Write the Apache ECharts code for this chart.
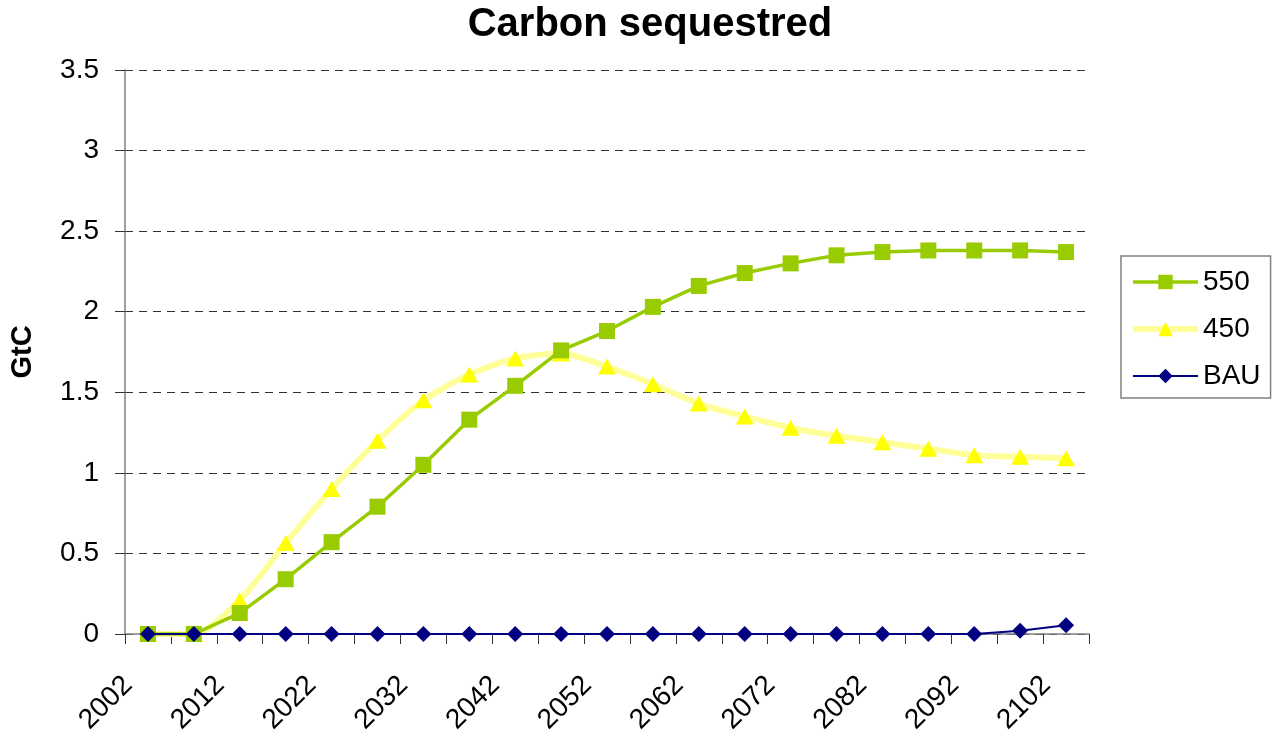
<!DOCTYPE html>
<html><head><meta charset="utf-8">
<script src="https://cdn.jsdelivr.net/npm/echarts@6/dist/echarts.min.js"></script>
<style>html,body{margin:0;padding:0;background:#fff}#c{width:1278px;height:743px}</style>
</head><body><div id="c"></div>
<script>
const years = ['2002','2007','2012','2017','2022','2027','2032','2037','2042','2047','2052','2057','2062','2067','2072','2077','2082','2087','2092','2097','2102'];
const s550 = [0,0,0.13,0.34,0.57,0.79,1.05,1.33,1.54,1.76,1.88,2.03,2.16,2.24,2.30,2.35,2.37,2.38,2.38,2.38,2.37];
const s450 = [0,0,0.21,0.565,0.90,1.20,1.45,1.61,1.71,1.74,1.66,1.55,1.43,1.35,1.28,1.23,1.19,1.15,1.11,1.10,1.09];
const sBAU = [0,0,0,0,0,0,0,0,0,0,0,0,0,0,0,0,0,0,0,0.02,0.055];
const yTicks = [0,0.5,1,1.5,2,2.5,3,3.5];

const font = 'Liberation Sans, Arial, sans-serif';
const chart = echarts.init(document.getElementById('c'), null, {renderer:'canvas'});
chart.setOption({
  animation:false,
  backgroundColor:'#fff',
  title:{text:'Carbon sequestred',left:645,top:0,textAlign:'center',
    textStyle:{fontFamily:font,fontSize:40,fontWeight:'bold',color:'#000'}},
  grid:{left:124,right:189,top:70,bottom:109,containLabel:false},
  legend:{
    orient:'vertical',left:1121,top:256,
    padding:[12,10,8,9],itemGap:19,itemWidth:65,itemHeight:18,
    borderColor:'#808080',borderWidth:1.5,backgroundColor:'#fff',
    textStyle:{fontFamily:font,fontSize:28,lineHeight:28,color:'#000'},
    data:[{name:'550',lineStyle:{width:3.5}},{name:'450',lineStyle:{width:6}},{name:'BAU',lineStyle:{width:2}}]
  },
  xAxis:{type:'category',data:years,boundaryGap:true,
    axisLine:{lineStyle:{color:'#808080',width:1.5}},
    axisTick:{show:true,interval:0,length:10,lineStyle:{color:'#333',width:1}},
    axisLabel:{interval:1,rotate:45,fontFamily:font,fontSize:28,color:'#000',margin:27,
      padding:[0,28,0,0]},
    splitLine:{show:false}},
  yAxis:{type:'value',min:0,max:3.5,interval:0.5,
    name:'GtC',nameLocation:'middle',nameGap:88,nameRotate:90,
    nameTextStyle:{fontFamily:font,fontSize:29,fontWeight:'bold',color:'#000'},
    axisLine:{show:true,lineStyle:{color:'#808080',width:1.5}},
    axisTick:{show:true,length:10,lineStyle:{color:'#333',width:1}},
    axisLabel:{fontFamily:font,fontSize:28,color:'#000',margin:26,
      formatter:v=>yTicks.includes(v)?String(v):''},
    splitLine:{show:true,lineStyle:{color:'#333',type:[8,6],width:1}}},
  series:[
    {name:'450',type:'line',data:s450,smooth:0.25,symbol:'triangle',symbolSize:[18,16],
      lineStyle:{color:'#FFFF99',width:6},itemStyle:{color:'#FFFF00',borderWidth:0},z:2},
    {name:'550',type:'line',data:s550,symbol:'rect',symbolSize:16,
      lineStyle:{color:'#99CC00',width:3.5},itemStyle:{color:'#99CC00',borderWidth:0},z:3},
    {name:'BAU',type:'line',data:sBAU,symbol:'diamond',symbolSize:[16,16],
      lineStyle:{color:'#000080',width:2},itemStyle:{color:'#000080',borderWidth:0},z:4}
  ]
});
</script></body></html>
